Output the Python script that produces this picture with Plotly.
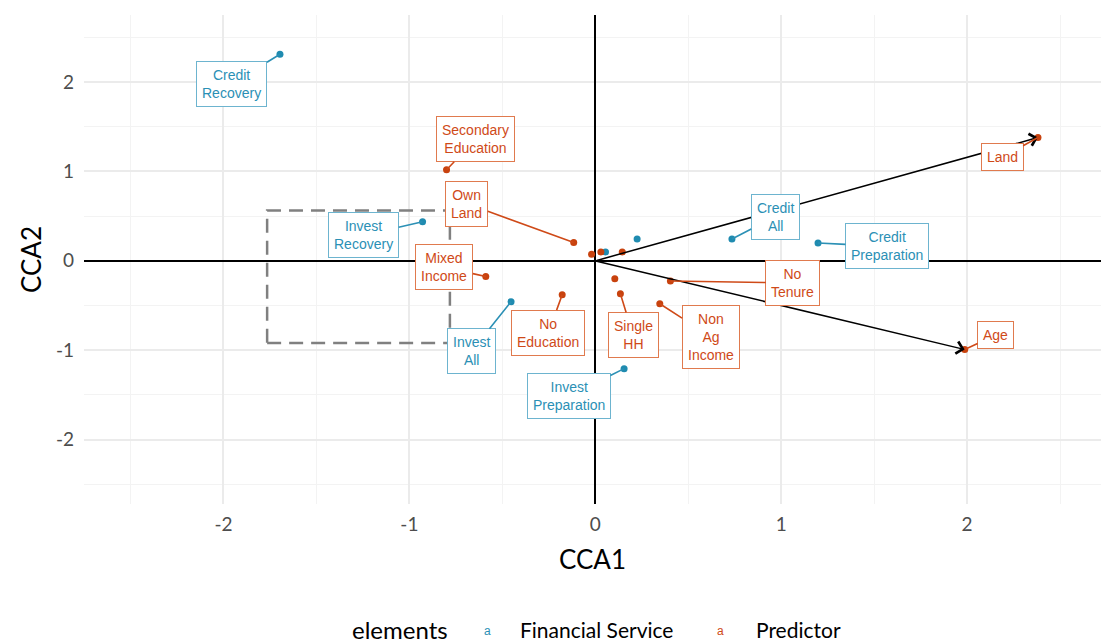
import plotly.graph_objects as go

# ---- CCA scores -------------------------------------------------------------
# Financial services (response side)
fs_names = ["Credit Recovery", "Invest Recovery", "Invest All", "Invest Preparation",
            "Credit All", "Credit Preparation", "", ""]
fs_cca1 = [-1.696, -0.929, -0.453, 0.155, 0.735, 1.198, 0.055, 0.225]
fs_cca2 = [2.311, 0.438, -0.457, -1.206, 0.244, 0.199, 0.100, 0.245]

# Predictors (explanatory side)
pr_names = ["Secondary Education", "Own Land", "Mixed Income", "No Education",
            "Single HH", "Non Ag Income", "No Tenure", "Land", "Age",
            "", "", "", ""]
pr_cca1 = [-0.800, -0.116, -0.589, -0.178, 0.135, 0.347, 0.404, 2.381, 1.987,
           -0.020, 0.030, 0.145, 0.105]
pr_cca2 = [1.019, 0.206, -0.176, -0.379, -0.367, -0.480, -0.225, 1.379, -0.992,
           0.075, 0.100, 0.100, -0.200]

# Continuous predictors drawn as biplot arrows
arrow_vars = ["Land", "Age"]

# axis ticks
tick_vals = [-2, -1, 0, 1, 2]
tick_text = ["-2", "-1", "0", "1", "2"]

# ---- label placement (offset of each label box from its point, data units) --
fs_label_dx = [-0.258, -0.317, -0.213, -0.297, 0.233, 0.371, None, None]
fs_label_dy = [-0.333, -0.154, -0.554, -0.311, 0.250, -0.036, None, None]
pr_label_dx = [0.158, -0.575, -0.223, -0.074, 0.068, 0.273, 0.658, -0.193, 0.166,
               None, None, None, None]
pr_label_dy = [0.341, 0.434, 0.105, -0.424, -0.462, -0.368, -0.022, -0.222, 0.163,
               None, None, None, None]

# highlighted region
box_x = [-1.765, -0.782]
box_y = [-0.918, 0.562]

# ---- styling ---------------------------------------------------------------
BLUE = "#1f8bb0"
BLUE_TXT = "#2b90b5"
BLUE_EDGE = "#6db4cf"
RED = "#c8420e"
RED_TXT = "#cf4a18"
RED_EDGE = "#e07a4e"
AXIS_FONT = "Lato"
LABEL_FONT = "Liberation Sans"

fig = go.Figure()

fig.add_trace(go.Scatter(x=fs_cca1, y=fs_cca2, mode="markers", name="Financial Service",
                         marker=dict(color=BLUE, size=7), showlegend=False,
                         hoverinfo="skip"))
fig.add_trace(go.Scatter(x=pr_cca1, y=pr_cca2, mode="markers", name="Predictor",
                         marker=dict(color=RED, size=7), showlegend=False,
                         hoverinfo="skip"))

annotations = []

# biplot arrows from the origin
for v in arrow_vars:
    i = pr_names.index(v)
    annotations.append(dict(
        x=pr_cca1[i], y=pr_cca2[i], xref="x", yref="y",
        ax=0, ay=0, axref="x", ayref="y", text="",
        showarrow=True, arrowhead=4, arrowsize=1.6, arrowwidth=1.5,
        arrowcolor="black", standoff=0))


def add_labels(names, xs, ys, dxs, dys, txt, edge):
    for n, x, y, dx, dy in zip(names, xs, ys, dxs, dys):
        if not n:
            continue
        annotations.append(dict(
            x=x, y=y, xref="x", yref="y",
            ax=x + dx, ay=y + dy, axref="x", ayref="y",
            text=n.replace(" ", "<br>"),
            font=dict(family=LABEL_FONT, size=14, color=txt),
            bgcolor="white", bordercolor=edge, borderwidth=1, borderpad=5,
            showarrow=True, arrowhead=0, arrowwidth=1.6, arrowcolor=txt,
            standoff=0, align="center"))


add_labels(fs_names, fs_cca1, fs_cca2, fs_label_dx, fs_label_dy, BLUE_TXT, BLUE_EDGE)
add_labels(pr_names, pr_cca1, pr_cca2, pr_label_dx, pr_label_dy, RED_TXT, RED_EDGE)

# legend drawn as text keys, like a label legend
leg_y = -0.256
annotations += [
    dict(x=0.3107, y=leg_y, xref="paper", yref="paper", text="elements",
         showarrow=False, font=dict(family=AXIS_FONT, size=24, color="black"),
         xanchor="center", yanchor="middle"),
    dict(x=0.3963, y=leg_y - 0.003, xref="paper", yref="paper", text="a",
         showarrow=False, font=dict(family=LABEL_FONT, size=12, color=BLUE_TXT),
         xanchor="center", yanchor="middle"),
    dict(x=0.4267, y=leg_y, xref="paper", yref="paper", text="Financial Service",
         showarrow=False, font=dict(family=AXIS_FONT, size=21, color="black"),
         xanchor="left", yanchor="middle"),
    dict(x=0.6263, y=leg_y - 0.003, xref="paper", yref="paper", text="a",
         showarrow=False, font=dict(family=LABEL_FONT, size=12, color=RED_TXT),
         xanchor="center", yanchor="middle"),
    dict(x=0.6588, y=leg_y, xref="paper", yref="paper", text="Predictor",
         showarrow=False, font=dict(family=AXIS_FONT, size=21, color="black"),
         xanchor="left", yanchor="middle"),
]

fig.add_shape(type="rect", x0=box_x[0], x1=box_x[1], y0=box_y[0], y1=box_y[1],
              xref="x", yref="y", layer="above",
              line=dict(color="#808080", width=2.5, dash="14px,8px"))

axis_common = dict(
    showgrid=True, gridcolor="#ebebeb", gridwidth=2,
    minor=dict(dtick=0.5, showgrid=True, gridcolor="#f3f3f3", gridwidth=1),
    zeroline=True, zerolinecolor="black", zerolinewidth=1.6,
    showline=False, ticks="",
    tickmode="array", tickvals=tick_vals, ticktext=tick_text,
    tickfont=dict(family=AXIS_FONT, size=19, color="#4d4d4d"),
)

fig.update_layout(
    width=1101, height=644,
    margin=dict(l=84, r=0, t=15, b=140),
    plot_bgcolor="white", paper_bgcolor="white",
    xaxis=dict(range=[-2.75, 2.72], title=dict(text="CCA1", standoff=16,
               font=dict(family=AXIS_FONT, size=26, color="black")),
               ticklabelstandoff=7, **axis_common),
    yaxis=dict(range=[-2.72, 2.75], title=dict(text="CCA2", standoff=6,
               font=dict(family=AXIS_FONT, size=26, color="black")),
               ticklabelstandoff=9, **axis_common),
    annotations=annotations,
    showlegend=False,
)

fig.write_html("out.html")
